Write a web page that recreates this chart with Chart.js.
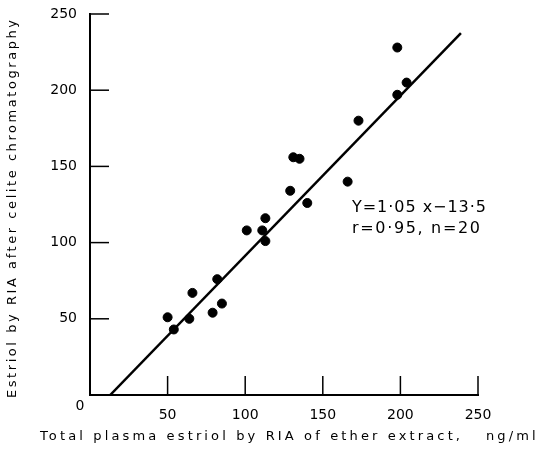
<!DOCTYPE html>
<html>
<head>
<meta charset="utf-8">
<script src="https://cdn.jsdelivr.net/npm/chart.js@4"></script>
<style>
  html, body { margin: 0; padding: 0; background: #fff; }
  #wrap { width: 551px; height: 450px; }
</style>
</head>
<body>
<div id="wrap"><canvas id="chartEstriol" width="551" height="450"></canvas></div>
<script>
// ── data ──
const etherX = [50, 54, 64, 66, 79, 85, 82, 101, 111, 113, 113, 140, 131, 135, 129, 166, 173, 198, 204, 198];
const celiteY = [51, 43, 50, 67, 54, 60, 76, 108, 108, 116, 101, 126, 156, 155, 134, 140, 180, 197, 205, 228];
const fitX = [13, 239];
const fitY = [0, 237.5];
const tickValues = [0, 50, 100, 150, 200, 250];

const xTitle = 'Total plasma estriol by RIA of ether extract,';
const xUnit = 'ng/ml';
const yTitle = 'Estriol by RIA after celite chromatography';
const fitText = ['Y=1·05 x\u221213·5', 'r=0·95, n=20'];

const ink = '#000';
const font = 'DejaVu Sans';

// draw text with spacing so it spans a given width
function spacedText(ctx, text, x, y, width) {
    ctx.letterSpacing = '0px';
    const w = ctx.measureText(text).width;
    const sp = Math.max(0, (width - w) / (text.length - 1));
    ctx.letterSpacing = sp + 'px';
    ctx.fillText(text, x, y);
    ctx.letterSpacing = '0px';
    return sp;
}

const decor = {
    id: 'decor',
    afterDraw(chart) {
        const { ctx, scales: { x, y } } = chart;
        ctx.save();
        ctx.strokeStyle = ink;
        ctx.fillStyle = ink;
        ctx.lineWidth = 1.5;

        // inward tick marks
        tickValues.slice(1).forEach(v => {
            const px = x.getPixelForValue(v);
            ctx.beginPath();
            ctx.moveTo(px, y.bottom);
            ctx.lineTo(px, y.bottom - 19);
            ctx.stroke();
            const py = y.getPixelForValue(v);
            ctx.beginPath();
            ctx.moveTo(x.left, py);
            ctx.lineTo(x.left + 19, py);
            ctx.stroke();
        });

        // shared origin label
        ctx.font = '14px ' + font;
        ctx.textAlign = 'center';
        ctx.textBaseline = 'middle';
        ctx.fillText('0', x.left - 10, y.bottom + 11);

        // axis titles
        ctx.font = '13px ' + font;
        ctx.textAlign = 'left';
        const sp = spacedText(ctx, xTitle, 40, 437, 420);
        ctx.letterSpacing = sp + 'px';
        ctx.fillText(xUnit, 486, 437);
        ctx.letterSpacing = '0px';

        ctx.save();
        ctx.translate(13, 398);
        ctx.rotate(-Math.PI / 2);
        spacedText(ctx, yTitle, 0, 0, 378);
        ctx.restore();

        // regression note
        ctx.font = '16px ' + font;
        spacedText(ctx, fitText[0], 352, 208, 134);
        spacedText(ctx, fitText[1], 352, 229, 128);
        ctx.restore();
    }
};

new Chart(document.getElementById('chartEstriol'), {
    type: 'scatter',
    data: {
        datasets: [
            {
                label: 'samples',
                data: etherX.map((v, i) => ({ x: v, y: celiteY[i] })),
                backgroundColor: ink,
                borderColor: ink,
                pointRadius: 4.5,
                pointHoverRadius: 4.5,
            },
            {
                label: 'fit',
                type: 'line',
                data: fitX.map((v, i) => ({ x: v, y: fitY[i] })),
                borderColor: ink,
                borderWidth: 2.5,
                pointRadius: 0,
                fill: false,
            }
        ]
    },
    plugins: [decor],
    options: {
        responsive: false,
        animation: false,
        layout: { padding: { left: 0, top: 14, right: 73, bottom: 0 } },
        plugins: { legend: { display: false }, tooltip: { enabled: false } },
        scales: {
            x: {
                type: 'linear', min: 0, max: 250,
                afterFit: s => { s.height = 55; },
                afterBuildTicks: s => { s.ticks = tickValues.map(v => ({ value: v })); },
                grid: { display: false },
                border: { display: true, color: ink, width: 2 },
                ticks: {
                    color: ink, padding: 4, maxRotation: 0,
                    font: { family: font, size: 14 },
                    callback: v => (v === 0 ? '' : v)
                }
            },
            y: {
                type: 'linear', min: 0, max: 250,
                afterFit: s => { s.width = 90; },
                afterBuildTicks: s => { s.ticks = tickValues.map(v => ({ value: v })); },
                grid: { display: false },
                border: { display: true, color: ink, width: 2 },
                ticks: {
                    color: ink, padding: 5,
                    font: { family: font, size: 14 },
                    callback: v => (v === 0 ? '' : v)
                }
            }
        }
    }
});
</script>
</body>
</html>
